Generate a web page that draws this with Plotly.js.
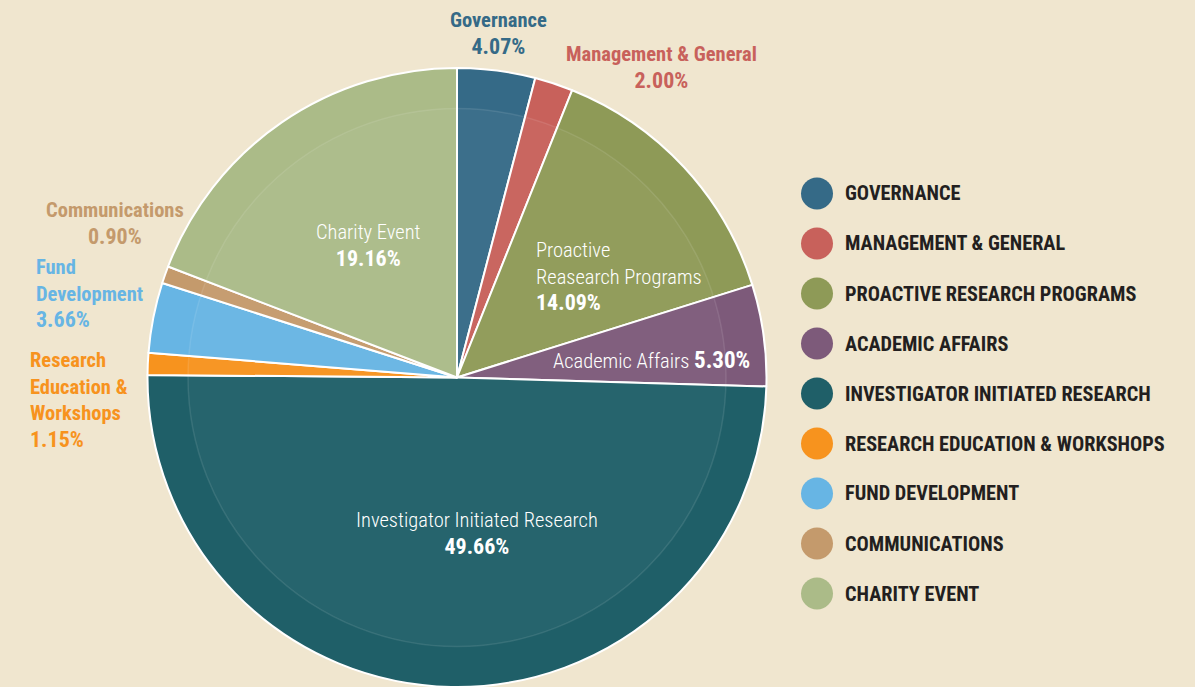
<!DOCTYPE html>
<html>
<head>
<meta charset="utf-8">
<script src="https://cdn.plot.ly/plotly-3.0.1.min.js"></script>
<style>
  html, body { margin: 0; padding: 0; background: #f0e6cf; }
  #chart { width: 1195px; height: 687px; }
</style>
</head>
<body>
<div id="chart"></div>
<script>
// ---- Data ----
const categories = ["Governance", "Management & General", "Proactive Research Programs", "Academic Affairs",
  "Investigator Initiated Research", "Research Education & Workshops", "Fund Development", "Communications", "Charity Event"];
const values = [4.07, 2.00, 14.09, 5.30, 49.66, 1.15, 3.66, 0.90, 19.16];
const sliceLabels = ["Governance", "Management & General", "Proactive<br>Reasearch Programs", "Academic Affairs",
  "Investigator Initiated Research", "Research<br>Education &<br>Workshops", "Fund<br>Development", "Communications", "Charity Event"];
const legendLabels = ["GOVERNANCE", "MANAGEMENT & GENERAL", "PROACTIVE RESEARCH PROGRAMS", "ACADEMIC AFFAIRS",
  "INVESTIGATOR INITIATED RESEARCH", "RESEARCH EDUCATION & WORKSHOPS", "FUND DEVELOPMENT", "COMMUNICATIONS", "CHARITY EVENT"];
const colors = ["#356a87", "#c8615b", "#8e9a57", "#7d5a7a", "#1f5f68", "#f7931e", "#67b5e4", "#c49a6c", "#abbb88"];

// ---- Layout helpers (pixel -> paper) ----
const W = 1195, H = 687;
const px = x => x / W;
const py = y => 1 - y / H;
const FONT = "Roboto Condensed, Liberation Sans Narrow, DejaVu Sans Condensed, Arial Narrow, sans-serif";
const pct = v => v.toFixed(2) + "%";

const annotations = [];
const shapes = [];

const labelPos = [
  {x: 498, y: 33, xa: "center", al: "center", out: true},
  {x: 661, y: 67, xa: "center", al: "center", out: true},
  {x: 534, y: 276, xa: "left", al: "left", out: false},
  {x: 752, y: 360, xa: "right", al: "right", out: false, oneLine: true},
  {x: 477, y: 533, xa: "center", al: "center", out: false},
  {x: 28, y: 400, xa: "left", al: "left", out: true},
  {x: 34, y: 293, xa: "left", al: "left", out: true},
  {x: 115, y: 223, xa: "center", al: "center", out: true},
  {x: 368, y: 246, xa: "center", al: "center", out: false}
];

categories.forEach((c, i) => {
  const p = labelPos[i];
  let text, font;
  if (p.oneLine) {
    text = sliceLabels[i] + " <b style='font-size:23px'>" + pct(values[i]) + "</b>";
    font = {family: FONT, size: 20.5, color: "#ffffff", weight: 300};
  } else if (p.out) {
    text = "<b>" + sliceLabels[i] + "</b><br><b style='font-size:22px'>" + pct(values[i]) + "</b>";
    font = {family: FONT, size: 20.5, color: colors[i]};
  } else {
    text = sliceLabels[i] + "<br><b style='font-size:22px'>" + pct(values[i]) + "</b>";
    font = {family: FONT, size: 20.5, color: "#ffffff", weight: 300};
  }
  annotations.push({
    xref: "paper", yref: "paper", x: px(p.x), y: py(p.y),
    xanchor: p.xa, yanchor: "middle", align: p.al, showarrow: false,
    text: text, font: font
  });
});

// custom legend
const legY0 = 193.5, legDY = 50.0;
legendLabels.forEach((t, i) => {
  const y = legY0 + i * legDY;
  shapes.push({
    type: "circle", xref: "paper", yref: "paper",
    xsizemode: "pixel", ysizemode: "pixel",
    xanchor: px(817), yanchor: py(y),
    x0: -16, x1: 16, y0: -16, y1: 16,
    fillcolor: colors[i], line: {width: 0}
  });
  annotations.push({
    xref: "paper", yref: "paper", x: px(843), y: py(y),
    xanchor: "left", yanchor: "middle", showarrow: false,
    text: "<b>" + t + "</b>",
    font: {family: FONT, size: 20.3, color: "#231f20"}
  });
});

// inner glow ring
shapes.push({
  type: "circle", xref: "paper", yref: "paper", layer: "above",
  xsizemode: "pixel", ysizemode: "pixel",
  xanchor: px(457), yanchor: py(377.5),
  x0: -269, x1: 269, y0: -269, y1: 269,
  fillcolor: "rgba(255,255,255,0.035)", line: {color: "rgba(255,255,255,0.10)", width: 1.5}
});

const trace = {
  type: "pie",
  labels: categories,
  values: values,
  sort: false,
  direction: "clockwise",
  rotation: 0,
  textinfo: "none",
  hoverinfo: "label+percent",
  showlegend: false,
  marker: {colors: colors, line: {color: "#ffffff", width: 2}},
  domain: {x: [px(147.5), px(766.5)], y: [0, py(68)]}
};

const layout = {
  width: W, height: H,
  margin: {l: 0, r: 0, t: 0, b: 0},
  paper_bgcolor: "#f0e6cf",
  plot_bgcolor: "#f0e6cf",
  showlegend: false,
  annotations: annotations,
  shapes: shapes
};

Plotly.newPlot("chart", [trace], layout, {displayModeBar: false, staticPlot: true});
</script>
</body>
</html>
